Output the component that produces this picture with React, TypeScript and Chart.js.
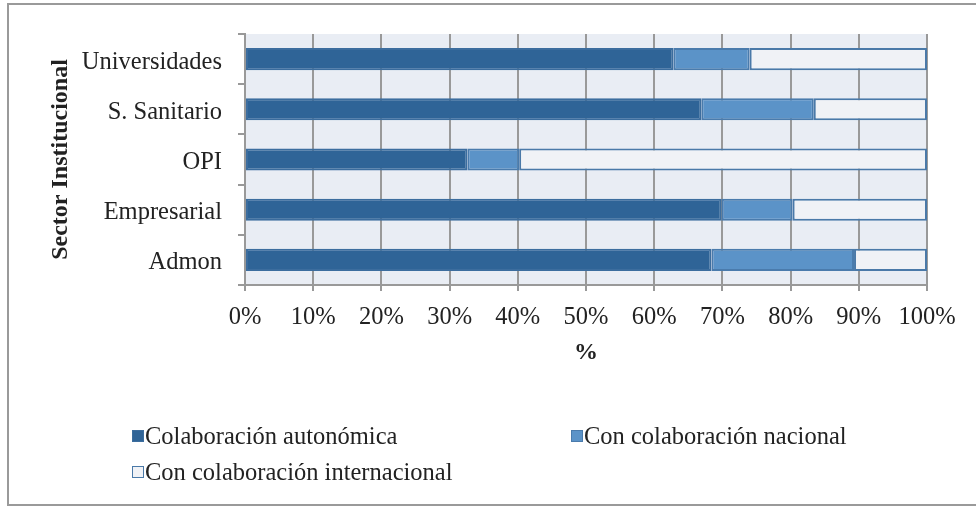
import React, { useEffect, useRef } from "react";
import { Chart, registerables } from "chart.js";

Chart.register(...registerables);

const categories = ["Universidades", "S. Sanitario", "OPI", "Empresarial", "Admon"];
const autonomica = [62.8, 66.9, 32.6, 69.9, 68.4];
const nacional = [11.2, 16.5, 7.6, 10.4, 20.9];
const internacional = [26.0, 16.6, 59.8, 19.7, 10.7];
const seriesNames = ["Colaboración autonómica", "Con colaboración nacional", "Con colaboración internacional"];
const xTicks = [0, 10, 20, 30, 40, 50, 60, 70, 80, 90, 100];

const FONT = "'Liberation Serif', serif";
const fills = ["#2F6497", "#5B93C8", "#F0F2F6"];
const borders = ["#3C6D9E", "#4A7BAC", "#4A79A8"];

const bgPlugin = {
  id: "plotBg",
  beforeDraw(chart: any) {
    const { ctx, chartArea } = chart;
    ctx.save();
    ctx.fillStyle = "#E9EDF4";
    ctx.fillRect(chartArea.left, chartArea.top, chartArea.right - chartArea.left, chartArea.bottom - chartArea.top);
    ctx.restore();
  },
};

export default function App() {
  const ref = useRef<HTMLCanvasElement | null>(null);
  useEffect(() => {
    if (!ref.current) return;
    const values = [autonomica, nacional, internacional];
    const chart = new Chart(ref.current, {
      type: "bar",
      data: {
        labels: categories,
        datasets: values.map((v, i) => ({
          label: seriesNames[i],
          data: v,
          backgroundColor: fills[i],
          borderColor: borders[i],
          borderWidth: 2,
          borderSkipped: false,
          barPercentage: 0.44,
          categoryPercentage: 1,
        })),
      },
      options: {
        indexAxis: "y",
        animation: false,
        responsive: false,
        maintainAspectRatio: false,
        layout: { padding: { top: 34, left: 40, right: 49, bottom: 0 } },
        plugins: { legend: { display: false }, tooltip: { enabled: false } },
        scales: {
          x: {
            stacked: true,
            min: 0,
            max: 100,
            afterBuildTicks: (s: any) => {
              s.ticks = xTicks.map((v) => ({ value: v }));
            },
            afterFit: (s: any) => {
              s.height = 506 - 285;
            },
            ticks: {
              callback: (v: any) => v + "%",
              color: "#222",
              font: { family: FONT, size: 24.5 },
              padding: 12,
              maxRotation: 0,
            },
            grid: { color: "#999", lineWidth: 2, tickLength: 6 },
            border: { color: "#999", width: 2 },
            title: {
              display: true,
              text: "%",
              color: "#222",
              font: { family: FONT, size: 24, weight: "bold" },
              padding: { top: 0, bottom: 139 },
            },
          },
          y: {
            stacked: true,
            afterFit: (s: any) => {
              s.width = 245 - 40;
            },
            ticks: {
              color: "#222",
              font: { family: FONT, size: 24.5 },
              padding: 16,
              labelOffset: 3,
            },
            grid: { drawOnChartArea: false, color: "#999", lineWidth: 2, tickLength: 7 },
            border: { color: "#999", width: 2 },
            title: {
              display: true,
              text: "Sector Institucional",
              color: "#222",
              font: { family: FONT, size: 24, weight: "bold" },
              padding: { top: 6, bottom: 0 },
            },
          },
        },
      },
      plugins: [bgPlugin],
    });
    return () => chart.destroy();
  }, []);

  const legendItem = (i: number, left: number, top: number) => (
    <div
      key={i}
      style={{
        position: "absolute",
        left,
        top,
        display: "flex",
        alignItems: "center",
        fontFamily: FONT,
        fontSize: 24.5,
        color: "#222",
        whiteSpace: "nowrap",
        lineHeight: "26px",
      }}
    >
      <span
        style={{
          display: "inline-block",
          width: 10,
          height: 10,
          background: fills[i],
          border: `1px solid ${borders[i]}`,
          marginRight: 1,
        }}
      />
      {seriesNames[i]}
    </div>
  );

  return (
    <div style={{ position: "fixed", left: 0, top: 0, width: 976, height: 506, overflow: "hidden", background: "#fff" }}>
      <div
        style={{
          position: "absolute",
          left: 7,
          top: 3,
          width: 1000,
          height: 499,
          border: "2px solid #9A9A9A",
        }}
      />
      <canvas ref={ref} width={976} height={506} style={{ position: "absolute", left: 0, top: 0 }} />
      {legendItem(0, 132, 423)}
      {legendItem(1, 571, 423)}
      {legendItem(2, 132, 459)}
    </div>
  );
}
